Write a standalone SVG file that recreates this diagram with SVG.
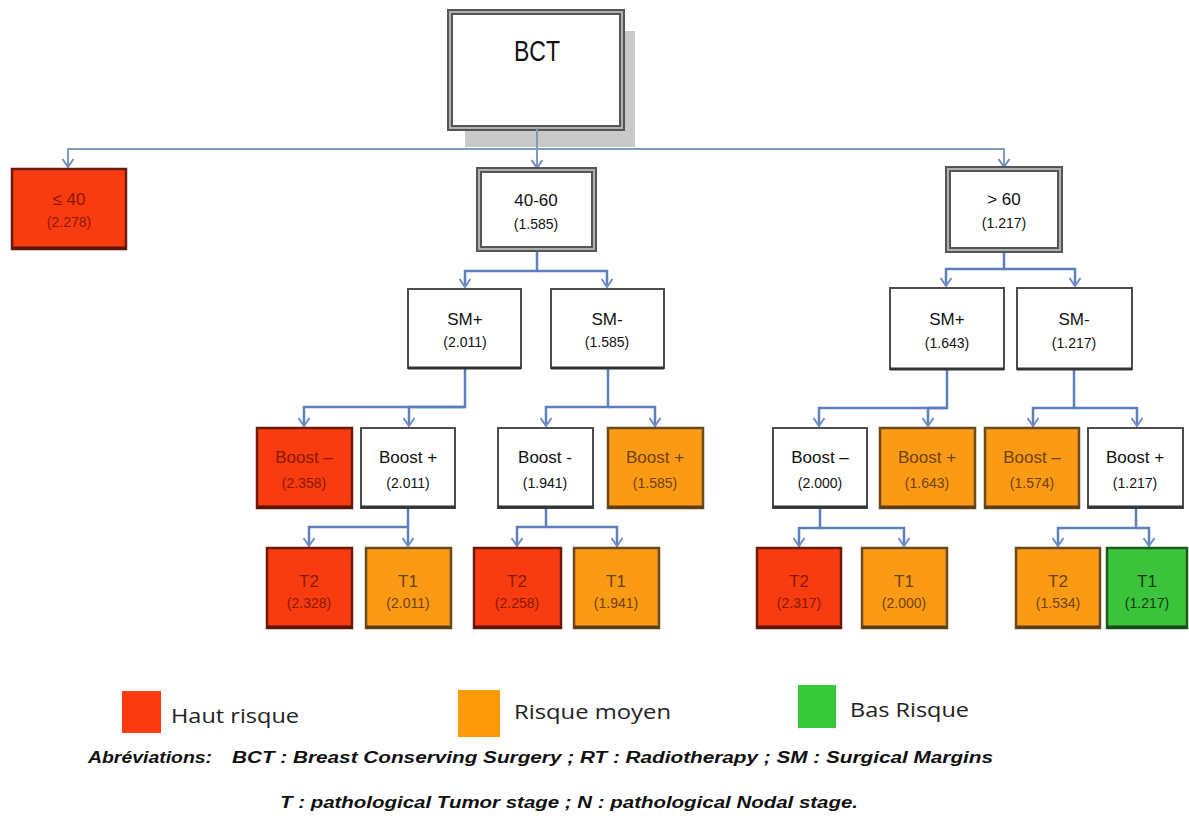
<svg xmlns="http://www.w3.org/2000/svg" width="1189" height="827" viewBox="0 0 1189 827">
<style>
.t{font-family:"Liberation Sans",Arial,sans-serif;text-anchor:middle}
.l{font-size:17px}
.v{font-size:14px}
.bw{fill:#fff;stroke:#4d4d4d;stroke-width:2}
.br{fill:#f83c10;stroke:#6b1a0c;stroke-width:2.5}
.bo{fill:#fb9a14;stroke:#6a4a1e;stroke-width:2.5}
.bg{fill:#3cc43c;stroke:#1d5a1d;stroke-width:2.5}
.dbl{fill:#fff;stroke:#555;stroke-width:6}
.dbl2{fill:none;stroke:#b0b0b0;stroke-width:2}
.kw{fill:#111}
.kr{fill:#8a1800}
.ko{fill:#6e4208}
.kg{fill:#0f3d0f}
.sw{stroke:#333;stroke-width:3}
.sr{stroke:#5a140a;stroke-width:3}
.so{stroke:#5a3e18;stroke-width:3}
.sg{stroke:#164a16;stroke-width:3}
.c{fill:none;stroke:#5d80bd;stroke-width:2.5}
.c0{fill:none;stroke:#7d9cc4;stroke-width:2}
.lg{font-family:"Open Sans","Liberation Sans",sans-serif;font-size:20px;fill:#222}
.ab{font-family:"Liberation Sans",Arial,sans-serif;font-size:16px;font-weight:bold;font-style:italic;fill:#111}
</style>
<defs>
<marker id="ar" viewBox="-10 -7 12 14" refX="0" refY="0" markerWidth="12" markerHeight="14" markerUnits="userSpaceOnUse" orient="auto">
<path d="M-8,-5.5 L0,0 L-8,5.5" fill="none" stroke="#6f8fc4" stroke-width="2"/>
</marker>
</defs>
<rect width="1189" height="827" fill="#fff"/>

<g id="bct">
<rect x="465" y="31" width="170" height="116" fill="#c9c9c9"/>
<rect class="dbl" x="450" y="12" width="172" height="116"/>
<rect class="dbl2" x="450" y="12" width="172" height="116"/>
<text class="t kw" x="537" y="61" font-size="30" textLength="46" lengthAdjust="spacingAndGlyphs">BCT</text>
</g>

<g id="connectors">
<path class="c0" d="M537,128 V168" marker-end="url(#ar)"/>
<path class="c0" d="M537,149 H68 V167" marker-end="url(#ar)"/>
<path class="c0" d="M537,149 H1004 V167" marker-end="url(#ar)"/>
<path class="c" d="M537,249 V271 H465 V287" marker-end="url(#ar)"/>
<path class="c" d="M537,271 H607 V287" marker-end="url(#ar)"/>
<path class="c" d="M1004,250 V269 H946 V286" marker-end="url(#ar)"/>
<path class="c" d="M1004,269 H1075 V286" marker-end="url(#ar)"/>
<path class="c" d="M465,368 V407 H304 V426" marker-end="url(#ar)"/>
<path class="c" d="M465,407 H409 V426" marker-end="url(#ar)"/>
<path class="c" d="M608,368 V407 H546 V426" marker-end="url(#ar)"/>
<path class="c" d="M608,407 H655 V426" marker-end="url(#ar)"/>
<path class="c" d="M947,369 V408 H819 V426" marker-end="url(#ar)"/>
<path class="c" d="M947,408 H928 V426" marker-end="url(#ar)"/>
<path class="c" d="M1074,369 V408 H1033 V426" marker-end="url(#ar)"/>
<path class="c" d="M1074,408 H1137 V426" marker-end="url(#ar)"/>
<path class="c" d="M408,508 V527 H309 V546" marker-end="url(#ar)"/>
<path class="c" d="M408,527 V546" marker-end="url(#ar)"/>
<path class="c" d="M546,508 V527 H517 V546" marker-end="url(#ar)"/>
<path class="c" d="M546,527 H617 V546" marker-end="url(#ar)"/>
<path class="c" d="M820,508 V528 H799 V546" marker-end="url(#ar)"/>
<path class="c" d="M820,528 H904 V546" marker-end="url(#ar)"/>
<path class="c" d="M1136,508 V528 H1058 V546" marker-end="url(#ar)"/>
<path class="c" d="M1136,528 H1149 V546" marker-end="url(#ar)"/>
</g>

<g id="le40">
<rect class="br" x="12" y="169" width="114" height="80"/>
<line class="sr" x1="12" y1="248" x2="126" y2="248"/>
<text class="t l kr" x="69" y="205">≤ 40</text>
<text class="t v kr" x="69" y="227">(2.278)</text>
</g>
<g id="n4060">
<rect class="dbl" x="479" y="170" width="115" height="79"/>
<rect class="dbl2" x="479" y="170" width="115" height="79"/>
<text class="t l kw" x="536" y="206">40-60</text>
<text class="t v kw" x="536" y="229">(1.585)</text>
</g>
<g id="gt60">
<rect class="dbl" x="948" y="169" width="112" height="81"/>
<rect class="dbl2" x="948" y="169" width="112" height="81"/>
<text class="t l kw" x="1004" y="205">&gt; 60</text>
<text class="t v kw" x="1004" y="228">(1.217)</text>
</g>

<g id="smp1">
<rect class="bw" x="408" y="289" width="113" height="79"/>
<line class="sw" x1="408" y1="368" x2="521" y2="368"/>
<text class="t l kw" x="465" y="325">SM+</text>
<text class="t v kw" x="465" y="347">(2.011)</text>
</g>
<g id="smm1">
<rect class="bw" x="551" y="289" width="113" height="79"/>
<line class="sw" x1="551" y1="368" x2="664" y2="368"/>
<text class="t l kw" x="607" y="325">SM-</text>
<text class="t v kw" x="607" y="347">(1.585)</text>
</g>
<g id="smp2">
<rect class="bw" x="890" y="288" width="114" height="81"/>
<line class="sw" x1="890" y1="369" x2="1004" y2="369"/>
<text class="t l kw" x="947" y="325">SM+</text>
<text class="t v kw" x="947" y="348">(1.643)</text>
</g>
<g id="smm2">
<rect class="bw" x="1017" y="288" width="115" height="81"/>
<line class="sw" x1="1017" y1="369" x2="1132" y2="369"/>
<text class="t l kw" x="1074" y="325">SM-</text>
<text class="t v kw" x="1074" y="348">(1.217)</text>
</g>

<g id="bm1">
<rect class="br" x="257" y="428" width="95" height="80"/>
<line class="sr" x1="257" y1="507" x2="352" y2="507"/>
<text class="t l kr" x="304" y="463">Boost –</text>
<text class="t v kr" x="304" y="488">(2.358)</text>
</g>
<g id="bp1">
<rect class="bw" x="361" y="428" width="94" height="80"/>
<line class="sw" x1="361" y1="507" x2="455" y2="507"/>
<text class="t l kw" x="408" y="463">Boost +</text>
<text class="t v kw" x="408" y="488">(2.011)</text>
</g>
<g id="bm2">
<rect class="bw" x="498" y="428" width="95" height="80"/>
<line class="sw" x1="498" y1="507" x2="593" y2="507"/>
<text class="t l kw" x="545" y="463">Boost -</text>
<text class="t v kw" x="545" y="488">(1.941)</text>
</g>
<g id="bp2">
<rect class="bo" x="608" y="428" width="95" height="80"/>
<line class="so" x1="608" y1="507" x2="703" y2="507"/>
<text class="t l ko" x="655" y="463">Boost +</text>
<text class="t v ko" x="655" y="488">(1.585)</text>
</g>
<g id="bm3">
<rect class="bw" x="773" y="428" width="94" height="80"/>
<line class="sw" x1="773" y1="507" x2="867" y2="507"/>
<text class="t l kw" x="820" y="463">Boost –</text>
<text class="t v kw" x="820" y="488">(2.000)</text>
</g>
<g id="bp3">
<rect class="bo" x="880" y="428" width="95" height="80"/>
<line class="so" x1="880" y1="507" x2="975" y2="507"/>
<text class="t l ko" x="927" y="463">Boost +</text>
<text class="t v ko" x="927" y="488">(1.643)</text>
</g>
<g id="bm4">
<rect class="bo" x="985" y="428" width="94" height="80"/>
<line class="so" x1="985" y1="507" x2="1079" y2="507"/>
<text class="t l ko" x="1032" y="463">Boost –</text>
<text class="t v ko" x="1032" y="488">(1.574)</text>
</g>
<g id="bp4">
<rect class="bw" x="1088" y="428" width="95" height="80"/>
<line class="sw" x1="1088" y1="507" x2="1183" y2="507"/>
<text class="t l kw" x="1135" y="463">Boost +</text>
<text class="t v kw" x="1135" y="488">(1.217)</text>
</g>

<g id="t2a">
<rect class="br" x="267" y="548" width="85" height="80"/>
<line class="sr" x1="267" y1="627" x2="352" y2="627"/>
<text class="t l kr" x="309" y="587">T2</text>
<text class="t v kr" x="309" y="608">(2.328)</text>
</g>
<g id="t1a">
<rect class="bo" x="366" y="548" width="85" height="80"/>
<line class="so" x1="366" y1="627" x2="451" y2="627"/>
<text class="t l ko" x="408" y="587">T1</text>
<text class="t v ko" x="408" y="608">(2.011)</text>
</g>
<g id="t2b">
<rect class="br" x="474" y="548" width="87" height="80"/>
<line class="sr" x1="474" y1="627" x2="561" y2="627"/>
<text class="t l kr" x="517" y="587">T2</text>
<text class="t v kr" x="517" y="608">(2.258)</text>
</g>
<g id="t1b">
<rect class="bo" x="574" y="548" width="85" height="80"/>
<line class="so" x1="574" y1="627" x2="659" y2="627"/>
<text class="t l ko" x="616" y="587">T1</text>
<text class="t v ko" x="616" y="608">(1.941)</text>
</g>
<g id="t2c">
<rect class="br" x="757" y="548" width="84" height="80"/>
<line class="sr" x1="757" y1="627" x2="841" y2="627"/>
<text class="t l kr" x="799" y="587">T2</text>
<text class="t v kr" x="799" y="608">(2.317)</text>
</g>
<g id="t1c">
<rect class="bo" x="862" y="548" width="85" height="80"/>
<line class="so" x1="862" y1="627" x2="947" y2="627"/>
<text class="t l ko" x="904" y="587">T1</text>
<text class="t v ko" x="904" y="608">(2.000)</text>
</g>
<g id="t2d">
<rect class="bo" x="1016" y="548" width="84" height="80"/>
<line class="so" x1="1016" y1="627" x2="1100" y2="627"/>
<text class="t l ko" x="1058" y="587">T2</text>
<text class="t v ko" x="1058" y="608">(1.534)</text>
</g>
<g id="t1d">
<rect class="bg" x="1107" y="548" width="80" height="80"/>
<line class="sg" x1="1107" y1="627" x2="1187" y2="627"/>
<text class="t l kg" x="1147" y="587">T1</text>
<text class="t v kg" x="1147" y="608">(1.217)</text>
</g>

<g id="legend">
<rect x="122" y="691" width="39" height="42" fill="#fb3a12"/>
<text class="lg" x="171" y="723" textLength="128" lengthAdjust="spacingAndGlyphs">Haut risque</text>
<rect x="458" y="690" width="42" height="47" fill="#fd9a0a"/>
<text class="lg" x="514" y="719" textLength="157" lengthAdjust="spacingAndGlyphs">Risque moyen</text>
<rect x="798" y="685" width="38" height="43" fill="#38c93a"/>
<text class="lg" x="850" y="717" textLength="119" lengthAdjust="spacingAndGlyphs">Bas Risque</text>
</g>
<g id="notes">
<text class="ab" x="88" y="763" textLength="124" lengthAdjust="spacingAndGlyphs">Abréviations:</text>
<text class="ab" x="232" y="763" textLength="761" lengthAdjust="spacingAndGlyphs">BCT : Breast Conserving Surgery ; RT : Radiotherapy ; SM : Surgical Margins</text>
<text class="ab" x="280" y="808" textLength="578" lengthAdjust="spacingAndGlyphs">T : pathological Tumor stage ; N : pathological Nodal stage.</text>
</g>
</svg>
